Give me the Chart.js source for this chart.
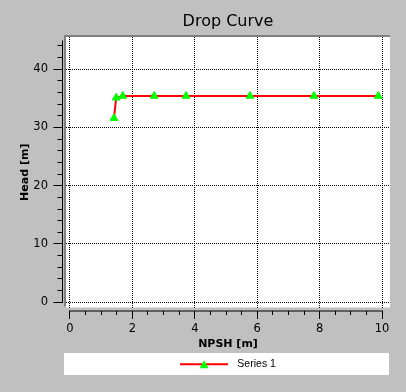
<!DOCTYPE html>
<html><head><meta charset="utf-8">
<script src="https://cdn.jsdelivr.net/npm/chart.js@4"></script>
<style>html,body{margin:0;padding:0;background:#c0c0c0;}canvas{display:block;}</style>
</head><body><canvas id="c" width="406" height="392"></canvas>
<script>
// ---- data ----
const npsh = [1.41, 1.48, 1.69, 2.70, 3.72, 5.77, 7.82, 9.88];
const head = [31.6, 35.1, 35.4, 35.4, 35.4, 35.4, 35.4, 35.4];
const xTicks = [0, 2, 4, 6, 8, 10];
const yTicks = [0, 10, 20, 30, 40];
const seriesName = 'Series 1';
const chartTitle = 'Drop Curve';
const xTitle = 'NPSH [m]';
const yTitle = 'Head [m]';

// ---- styles ----
const RED = '#ff0000', GREEN = '#00ff00';
const xAxisRange = [0, 10], yAxisRange = [0, 45];
const xMinorStep = 0.5, xMajorStep = 2, yMinorStep = 2, yMajorStep = 10;

Chart.defaults.font.family = 'DejaVu Sans';
Chart.defaults.color = '#000';

function legendSymbol() {
  const c = document.createElement('canvas');
  c.width = 52; c.height = 14;
  const g = c.getContext('2d');
  g.fillStyle = RED; g.fillRect(0, 6, 48, 2);
  g.fillStyle = GREEN;
  g.beginPath(); g.moveTo(24, 3); g.lineTo(28.5, 11); g.lineTo(19.5, 11); g.closePath(); g.fill();
  return c;
}

function align(p) { return Math.round(p - 0.5) + 0.5; }

const frame = {
  id: 'frame',
  beforeDraw(chart) {
    const ctx = chart.ctx, a = chart.chartArea, L = chart.legend;
    ctx.save();
    ctx.fillStyle = '#c0c0c0'; ctx.fillRect(0, 0, chart.width, chart.height);
    ctx.fillStyle = '#ffffff'; ctx.fillRect(a.left, a.top, a.right - a.left, a.bottom - a.top);
    ctx.fillStyle = '#808080';
    ctx.fillRect(a.left - 2, a.top - 2, a.right - a.left + 2, 2);
    ctx.fillRect(a.left - 2, a.top - 2, 2, a.bottom - a.top + 1);
    const cy = L.top + 8 + 5;
    ctx.fillStyle = '#ffffff'; ctx.fillRect(a.left - 2, cy - 11, a.right - a.left + 1, 22);
    ctx.restore();
  },
  afterDraw(chart) {
    const ctx = chart.ctx, a = chart.chartArea, xs = chart.scales.x, ys = chart.scales.y;
    ctx.save();
    ctx.strokeStyle = '#000'; ctx.lineWidth = 1;
    ctx.beginPath();
    // y axis
    const ax = a.left - 3.5;
    ctx.moveTo(ax, align(ys.getPixelForValue(yAxisRange[0])) + 0.5);
    ctx.lineTo(ax, align(ys.getPixelForValue(yAxisRange[1])));
    for (let v = yAxisRange[0]; v < yAxisRange[1]; v += yMinorStep) {
      const y = align(ys.getPixelForValue(v));
      const len = (v % yMajorStep === 0) ? 9 : 5;
      ctx.moveTo(ax - len, y); ctx.lineTo(ax + 0.5, y);
    }
    // x axis
    const ay = a.bottom + 3.5;
    ctx.moveTo(align(xs.getPixelForValue(xAxisRange[0])) - 0.5, ay);
    ctx.lineTo(align(xs.getPixelForValue(xAxisRange[1])) + 0.5, ay);
    for (let v = xAxisRange[0]; v <= xAxisRange[1] + 1e-9; v += xMinorStep) {
      const x = align(xs.getPixelForValue(v));
      const major = Math.abs(v / xMajorStep - Math.round(v / xMajorStep)) < 1e-6;
      ctx.moveTo(x, ay); ctx.lineTo(x, ay + (major ? 8 : 4));
    }
    ctx.stroke();
    ctx.restore();
  }
};

new Chart(document.getElementById('c'), {
  type: 'line',
  data: {
    datasets: [{
      label: seriesName,
      data: npsh.map((x, i) => ({ x: x, y: head[i] })),
      borderColor: RED, borderWidth: 2, tension: 0, fill: false,
      pointStyle: 'triangle', pointRadius: 4.5, pointHoverRadius: 4.5,
      pointBackgroundColor: GREEN, pointBorderColor: GREEN, pointBorderWidth: 1
    }]
  },
  options: {
    responsive: false, animation: false, devicePixelRatio: 1,
    layout: { padding: { left: 10, right: 16, top: 0, bottom: 12.5 } },
    scales: {
      x: {
        type: 'linear', min: -0.1282, max: 10.2564,
        afterBuildTicks: s => { s.ticks = xTicks.map(v => ({ value: v })); },
        afterFit: s => { s.height = 43.5; },
        grid: { color: '#000', lineWidth: 1, drawTicks: false },
        border: { display: false, dash: [1, 1] },
        ticks: { padding: 15, autoSkip: false, maxRotation: 0, font: { size: 11.5 }, color: '#000', callback: v => String(v) },
        title: { display: true, text: xTitle, font: { size: 11, weight: 'bold' }, padding: { top: 0, bottom: 0.5 }, color: '#000' }
      },
      y: {
        type: 'linear', min: -0.908, max: 45.535,
        afterBuildTicks: s => { s.ticks = yTicks.map(v => ({ value: v })); },
        afterFit: s => { s.width = 56; },
        grid: { color: '#000', lineWidth: 1, drawTicks: false },
        border: { display: false, dash: [1, 1] },
        ticks: { padding: 18, autoSkip: false, font: { size: 11.5 }, color: '#000', callback: v => String(v) },
        title: { display: true, text: yTitle, font: { size: 11, weight: 'bold' }, padding: { top: 8.4, bottom: 0 }, color: '#000' }
      }
    },
    plugins: {
      title: { display: true, text: chartTitle, fullSize: false, font: { size: 16, weight: 'normal' }, padding: { top: 12, bottom: 5.8 }, color: '#000' },
      legend: {
        display: true, position: 'bottom', fullSize: false,
        labels: {
          usePointStyle: true, pointStyleWidth: 52, padding: 8,
          font: { family: 'Liberation Sans', size: 10.5 }, color: '#000',
          generateLabels: chart => [{ text: seriesName, pointStyle: legendSymbol(), fillStyle: GREEN, strokeStyle: RED, lineWidth: 0, hidden: false, datasetIndex: 0, fontColor: '#000' }]
        }
      },
      tooltip: { enabled: false }
    }
  },
  plugins: [frame]
});
</script>
</body></html>
